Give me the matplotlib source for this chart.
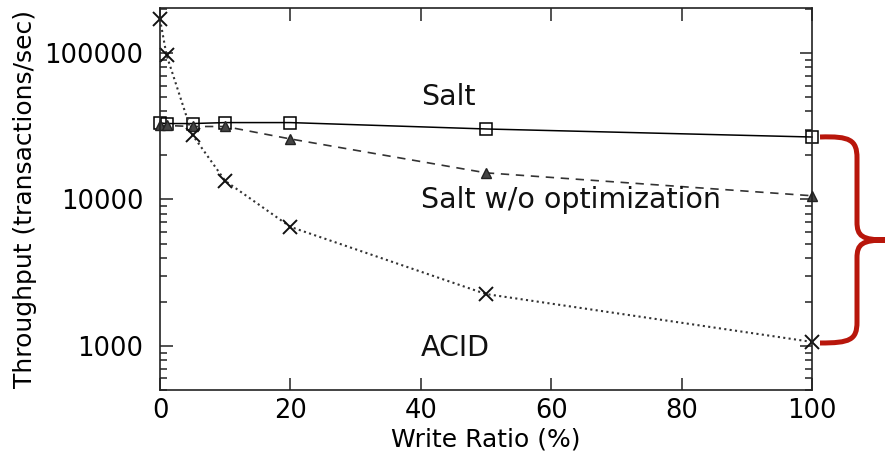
import matplotlib
matplotlib.use('Agg')
import matplotlib.pyplot as plt
from matplotlib.path import Path
import matplotlib.patches as mpatches
from matplotlib.ticker import LogLocator, NullFormatter, FixedLocator

# data
write_ratio = [0, 1, 5, 10, 20, 50, 100]
salt = [33300, 33000, 33000, 33500, 33500, 30300, 26700]
salt_noopt = [32000, 32000, 31500, 31500, 25900, 15200, 10600]
acid = [170000, 97000, 27500, 13400, 6500, 2260, 1065]

x_ticks = [0, 20, 40, 60, 80, 100]
y_ticks = [1000, 10000, 100000]
y_ticklabels = ['1000', '10000', '100000']

W, H = 885, 462
fig = plt.figure(figsize=(W / 100, H / 100), dpi=100)
ax = fig.add_axes([160 / W, 1 - 390 / H, (812 - 160) / W, (390 - 8) / H])

ax.plot(write_ratio, salt, color='black', lw=1.1, ls='-',
        marker='s', ms=8.5, mfc='none', mec='black', mew=1.1, clip_on=False)
ax.plot(write_ratio, salt_noopt, color='#333333', lw=1.2, ls=(0, (5, 4)),
        marker='^', ms=7, mfc='#444444', mec='#222222', mew=1, clip_on=False)
ax.plot(write_ratio, acid, color='#333333', lw=1.5, ls=(0, (1, 1.6)),
        marker='x', ms=10, mec='#111111', mew=1.4, clip_on=False)

ax.set_yscale('log')
ax.set_xlim(0, 100)
ax.set_ylim(500, 203000)

ax.yaxis.set_major_locator(FixedLocator(y_ticks))
ax.set_yticklabels(y_ticklabels)
ax.yaxis.set_minor_locator(LogLocator(base=10, subs=range(2, 10)))
ax.yaxis.set_minor_formatter(NullFormatter())
ax.set_xticks(x_ticks)

ax.tick_params(which='both', direction='in', top=True, right=True,
               labelsize=18.5, width=1.1, color='#222222')
ax.tick_params(which='major', length=9)
ax.tick_params(axis='y', which='major', pad=12)
ax.tick_params(axis='x', which='major', pad=6)
ax.tick_params(which='minor', length=5)
for sp in ax.spines.values():
    sp.set_linewidth(1.2)
    sp.set_color('#222222')

ax.set_xlabel('Write Ratio (%)', fontsize=18, labelpad=2)
ax.set_ylabel('Throughput (transactions/sec)', fontsize=18, labelpad=5)

ax.text(40, 50000, 'Salt', fontsize=20.5, va='center', ha='left', color='#111111')
ax.text(40, 9900, 'Salt w/o optimization', fontsize=20.5, va='center', ha='left',
        color='#111111')
ax.text(40, 970, 'ACID', fontsize=20.5, va='center', ha='left', color='#111111')


# red curly brace on the right, in pixel coords of the figure
def px(x, y):
    return (x / W, 1 - y / H)


verts = [px(820, 137), px(850, 136), px(857, 140), px(857, 158),
         px(857, 222),
         px(857, 236), px(862, 240), px(886, 240),
         px(862, 240), px(857, 244), px(857, 258),
         px(857, 322),
         px(857, 340), px(850, 343), px(820, 343)]
codes = [Path.MOVETO, Path.CURVE4, Path.CURVE4, Path.CURVE4,
         Path.LINETO,
         Path.CURVE4, Path.CURVE4, Path.CURVE4,
         Path.CURVE4, Path.CURVE4, Path.CURVE4,
         Path.LINETO,
         Path.CURVE4, Path.CURVE4, Path.CURVE4]
brace = mpatches.PathPatch(Path(verts, codes), transform=fig.transFigure,
                           fill=False, edgecolor='#b8160b', lw=3.6,
                           capstyle='butt', joinstyle='round')
fig.patches.append(brace)

fig.savefig('out.png', dpi=100)
